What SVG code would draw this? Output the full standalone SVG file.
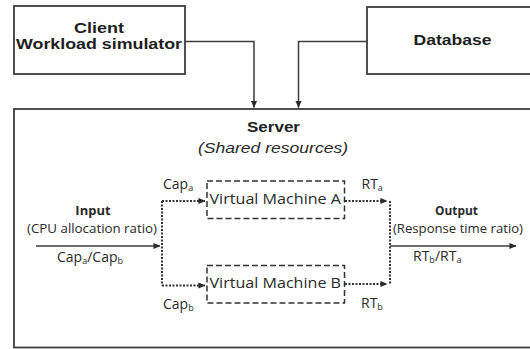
<svg xmlns="http://www.w3.org/2000/svg" width="530" height="349" viewBox="0 0 530 349">
  <defs>
    <marker id="arrow" viewBox="0 0 8 8" refX="7.5" refY="4" markerWidth="7" markerHeight="7" markerUnits="userSpaceOnUse" orient="auto">
      <path d="M0,0.5 L8,4 L0,7.5 Z" fill="#2b2b2b"/>
    </marker>
    <style>
      .box { fill: #fff; stroke: #3c3c3c; stroke-width: 1.8; }
      .vm { fill: none; stroke: #333; stroke-width: 1.5; stroke-dasharray: 6 3; }
      .wire { fill: none; stroke: #3c3c3c; stroke-width: 1.5; }
      .dot { fill: none; stroke: #333; stroke-width: 2; stroke-dasharray: 2 1.5; }
      .head { font-family: "Liberation Sans", Arial, sans-serif; font-weight: bold; font-size: 15px; fill: #1e1e1e; }
      .ital { font-family: "Liberation Sans", Arial, sans-serif; font-style: italic; font-size: 15px; fill: #2a2a2a; }
      .lbl { font-family: "Open Sans", "Noto Sans", sans-serif; font-size: 14px; fill: #2a2a2a; }
      .small { font-family: "Open Sans", "Noto Sans", sans-serif; font-size: 13px; fill: #2a2a2a; }
      .bold { font-weight: bold; }
      .sub { font-size: 9px; }
    </style>
  </defs>

  <!-- Client -->
  <g id="client">
    <rect class="box" x="14" y="6" width="171" height="68"/>
    <text class="head" x="74" y="33" style="font-size:14px" textLength="50" lengthAdjust="spacingAndGlyphs">Client</text>
    <text class="head" x="16" y="48.8" style="font-size:14px" textLength="166" lengthAdjust="spacingAndGlyphs">Workload simulator</text>
  </g>

  <!-- Database -->
  <g id="database">
    <rect class="box" x="367" y="7" width="175" height="67"/>
    <text class="head" x="413.5" y="45" textLength="78" lengthAdjust="spacingAndGlyphs">Database</text>
  </g>

  <!-- Server -->
  <g id="server">
    <rect class="box" x="14" y="109" width="530" height="238.5"/>
    <text class="head" x="247" y="132" textLength="53" lengthAdjust="spacingAndGlyphs">Server</text>
    <text class="ital" x="198" y="153" textLength="150" lengthAdjust="spacingAndGlyphs">(Shared resources)</text>
  </g>

  <!-- Virtual machines -->
  <g id="vm-a">
    <rect class="vm" x="207" y="181" width="137.5" height="37.5"/>
    <text class="lbl" x="209.5" y="203.5" textLength="131.5" lengthAdjust="spacingAndGlyphs">Virtual Machine A</text>
  </g>
  <g id="vm-b">
    <rect class="vm" x="207" y="265.5" width="137.5" height="37.5"/>
    <text class="lbl" x="209.5" y="288" textLength="131.5" lengthAdjust="spacingAndGlyphs">Virtual Machine B</text>
  </g>

  <!-- Input / output labels -->
  <g id="input">
    <text class="small bold" x="93" y="214.5" text-anchor="middle">Input</text>
    <text class="small" x="27" y="233" textLength="130" lengthAdjust="spacingAndGlyphs">(CPU allocation ratio)</text>
    <text class="lbl" x="57" y="261.5">Cap<tspan class="sub" dy="2">a</tspan><tspan dy="-2">/Cap</tspan><tspan class="sub" dy="2">b</tspan></text>
  </g>
  <g id="output">
    <text class="small bold" x="435" y="214.5" textLength="43" lengthAdjust="spacingAndGlyphs">Output</text>
    <text class="small" x="393" y="233" textLength="130" lengthAdjust="spacingAndGlyphs">(Response time ratio)</text>
    <text class="lbl" x="413" y="260.5">RT<tspan class="sub" dy="2">b</tspan><tspan dy="-2">/RT</tspan><tspan class="sub" dy="2">a</tspan></text>
  </g>

  <!-- Branch labels -->
  <g id="branch-labels">
    <text class="lbl" x="163" y="189">Cap<tspan class="sub" dy="2">a</tspan></text>
    <text class="lbl" x="163" y="309">Cap<tspan class="sub" dy="2">b</tspan></text>
    <text class="lbl" x="361.5" y="188.5">RT<tspan class="sub" dy="2">a</tspan></text>
    <text class="lbl" x="361" y="308">RT<tspan class="sub" dy="2">b</tspan></text>
  </g>

  <!-- Connectors -->
  <g id="connectors">
    <path class="wire" d="M185,41.5 H254 V107.5" marker-end="url(#arrow)"/>
    <path class="wire" d="M367,41.5 H298.5 V107.5" marker-end="url(#arrow)"/>

    <path class="wire" d="M36,246 H160" marker-end="url(#arrow)"/>
    <path class="dot" d="M162,201 V285.5"/>
    <path class="dot" d="M162,201 H205" marker-end="url(#arrow)"/>
    <path class="dot" d="M162,285.5 H205" marker-end="url(#arrow)"/>

    <path class="dot" d="M345,201 H387" marker-end="url(#arrow)"/>
    <path class="dot" d="M345,284 H387" marker-end="url(#arrow)"/>
    <path class="dot" d="M390,201 V284"/>
    <path class="wire" d="M390,246 H516" marker-end="url(#arrow)"/>
  </g>
</svg>
